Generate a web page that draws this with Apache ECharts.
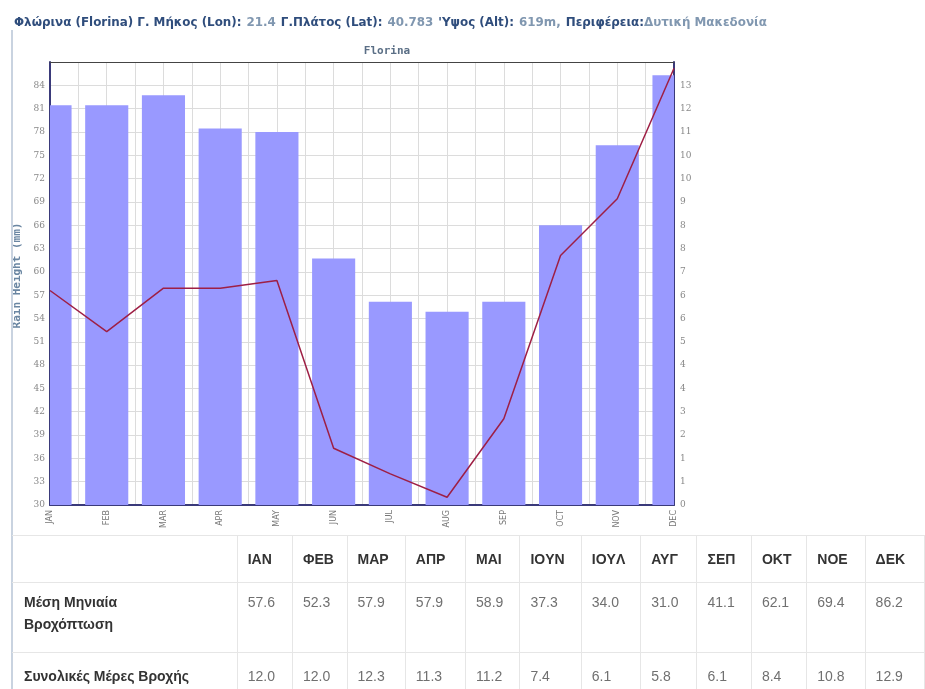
<!DOCTYPE html>
<html>
<head>
<meta charset="utf-8">
<script src="https://cdn.jsdelivr.net/npm/echarts@6/dist/echarts.min.js"></script>
<style>
  html, body { margin: 0; padding: 0; background: #fff; width: 925px; height: 689px; overflow: hidden; position: relative; }
  #chart { position: absolute; left: 0; top: 0; width: 925px; height: 535px; }
  #tbl { position: absolute; left: 12px; top: 535px; border-collapse: collapse; table-layout: fixed; font-family: "Liberation Sans", Arial, sans-serif; font-size: 14px; }
  #tbl td, #tbl th { border: 1px solid #e6e6e6; padding: 0 0 0 10px; text-align: left; white-space: nowrap; overflow: hidden; }
  #tbl th { font-weight: bold; color: #333; height: 46px; vertical-align: middle; }
  #tbl td { color: #707070; vertical-align: top; line-height: 22px; }
  #tbl td.lab { font-weight: bold; color: #333; white-space: normal; padding-left: 12px; }
  #tbl tr.r2 td { padding-top: 8px; height: 61px; }
  #tbl tr.r3 td { padding-top: 12px; height: 40px; }
  #tbl tr td:first-child, #tbl tr th:first-child { border-left: none; }
  #pageline { position: absolute; left: 11px; top: 30px; width: 2px; height: 659px; background: #c9d3e0; }
</style>
</head>
<body>
<div id="chart"></div>
<div id="pageline"></div>
<table id="tbl"></table>
<script>
// ---- data ----
const months = ['JAN','FEB','MAR','APR','MAY','JUN','JUL','AUG','SEP','OCT','NOV','DEC'];
const monthsGr = ['IAN','ΦΕΒ','MAP','ΑΠΡ','MAI','IOYN','IOYΛ','ΑΥΓ','ΣΕΠ','ΟΚΤ','ΝΟΕ','ΔΕΚ'];
const rainMm = [57.6, 52.3, 57.9, 57.9, 58.9, 37.3, 34.0, 31.0, 41.1, 62.1, 69.4, 86.2];
const rainDays = [12.0, 12.0, 12.3, 11.3, 11.2, 7.4, 6.1, 5.8, 6.1, 8.4, 10.8, 12.9];
const rowLabels = ['Μέση Μηνιαία Βροχόπτωση', 'Συνολικές Μέρες Βροχής'];
const chartTitle = 'Florina';
const yName = 'Rain Height (mm)';

// ---- table ----
const colW = [230, 56, 55, 59, 61, 55, 62, 60, 57, 55, 56, 59, 60];
let html = '<colgroup>' + colW.map(w => '<col style="width:' + w + 'px">').join('') + '</colgroup>';
html += '<tr><th></th>' + monthsGr.map(m => '<th>' + m + '</th>').join('') + '</tr>';
html += '<tr class="r2"><td class="lab">Μέση Μηνιαία<br>Βροχόπτωση</td>' + rainMm.map(v => '<td>' + v.toFixed(1) + '</td>').join('') + '</tr>';
html += '<tr class="r3"><td class="lab">' + rowLabels[1] + '</td>' + rainDays.map(v => '<td>' + v.toFixed(1) + '</td>').join('') + '</tr>';
document.getElementById('tbl').innerHTML = html;

// ---- chart ----
function halfEven(v) {
  const x = Math.round(v * 1000) / 1000;
  const f = Math.floor(x);
  if (Math.abs(x - f - 0.5) < 1e-6) return (f % 2 === 0) ? f : f + 1;
  return Math.round(x);
}
const chart = echarts.init(document.getElementById('chart'), null, { renderer: 'canvas' });
const navy = '#3a3a7a';
const barData = rainDays.map((v, i) => [i, v]);
chart.setOption({
  animation: false,
  backgroundColor: '#fff',
  title: [{
    text: '{b|Φλώρινα (Florina) Γ. Μήκος (Lon):} {n|21.4} {b|Γ.Πλάτος (Lat):} {n|40.783} {b|\'Υψος (Alt):} {n|619m,} {b|Περιφέρεια:}{n|Δυτική Μακεδονία}',
    left: 9, top: 9,
    textStyle: {
      rich: {
        b: { fontFamily: 'DejaVu Sans', fontSize: 11.9, fontWeight: 'bold', color: '#2f4d7c' },
        n: { fontFamily: 'DejaVu Sans', fontSize: 11.9, color: '#8097b0' }
      }
    }
  }, {
    text: chartTitle,
    left: 382, top: 41, textAlign: 'center',
    textStyle: { fontFamily: 'DejaVu Sans Mono, monospace', fontSize: 11, fontWeight: 'bold', color: '#5b6f86' }
  }],
  grid: { left: 50, top: 62, width: 624, height: 443, show: false },
  xAxis: [{
    type: 'category', data: months, boundaryGap: false, position: 'bottom',
    axisLine: { show: true, lineStyle: { color: navy, width: 2 } },
    axisTick: { show: false },
    axisLabel: { rotate: 90, fontSize: 8, color: '#777', margin: 5, fontFamily: 'DejaVu Sans' },
    splitLine: { show: false }
  }, {
    type: 'value', min: 0, max: 11, interval: 0.5, position: 'top',
    axisLine: { show: true, onZero: false, lineStyle: { color: '#444', width: 1 } },
    axisTick: { show: false }, axisLabel: { show: false },
    splitLine: { show: true, lineStyle: { color: '#dcdcdc', width: 1 } }
  }],
  yAxis: [{
    type: 'value', min: 30, max: 87, interval: 3, position: 'left',
    name: yName, nameLocation: 'middle', nameGap: 22, nameRotate: 90,
    nameTextStyle: { fontFamily: 'DejaVu Sans Mono, monospace', fontSize: 11, fontWeight: 'bold', color: '#6a86a2', padding: [0, 0, 0, 16] },
    axisLine: { show: true, onZero: false, lineStyle: { color: navy, width: 2 } },
    axisTick: { show: false },
    axisLabel: { fontSize: 9, color: '#888', margin: 5, showMaxLabel: false, fontFamily: 'DejaVu Serif' },
    splitLine: { show: true, lineStyle: { color: '#dcdcdc', width: 1 } }
  }, {
    type: 'value', min: 0, max: 13.3, interval: 0.7, position: 'right',
    axisLine: { show: true, onZero: false, lineStyle: { color: navy, width: 2 } },
    axisTick: { show: false },
    axisLabel: { fontSize: 9, color: '#888', margin: 6, showMaxLabel: false, fontFamily: 'DejaVu Serif',
      formatter: v => String(halfEven(v)) },
    splitLine: { show: false }
  }],
  series: [{
    type: 'custom', name: 'days', data: barData, xAxisIndex: 0, yAxisIndex: 1,
    encode: { x: 0, y: 1 },
    renderItem: function (params, api) {
      const top = api.coord([api.value(0), api.value(1)]);
      const base = api.coord([api.value(0), 0]);
      const w = api.size([1, 0])[0] * 0.76;
      const cs = params.coordSys;
      const rect = echarts.graphic.clipRectByRect(
        { x: top[0] - w / 2, y: top[1], width: w, height: base[1] - top[1] },
        { x: cs.x, y: cs.y, width: cs.width, height: cs.height });
      return rect && { type: 'rect', shape: rect, style: { fill: '#9999ff' } };
    },
    z: 2
  }, {
    type: 'line', name: 'rain', data: rainMm, xAxisIndex: 0, yAxisIndex: 0,
    symbol: 'none', clip: false, z: 3,
    lineStyle: { color: '#9e1f45', width: 1.5 }
  }]
});
</script>
</body>
</html>
